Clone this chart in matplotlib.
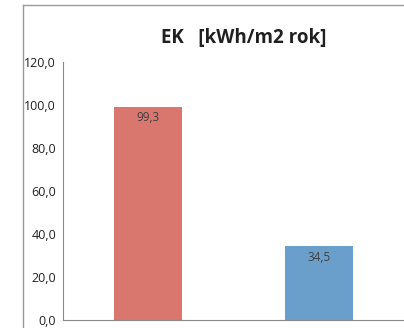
import matplotlib.pyplot as plt
from matplotlib.lines import Line2D

# dane
kategorie = ["stan istniejący", "po termomodernizacji"]
wartosci = [99.3, 34.5]
kolory = ["#d9776f", "#6a9fcb"]
tytul = "EK   [kWh/m2 rok]"
yticki = [0, 20, 40, 60, 80, 100, 120]

plt.rcParams['font.family'] = ['Open Sans', 'DejaVu Sans']

fig = plt.figure(figsize=(4.04, 3.28), dpi=100)
# ramka wykresu (lewa i górna krawędź)
fig.lines.append(Line2D([23 / 404, 23 / 404], [0, 1 - 5 / 328],
                        transform=fig.transFigure, color="#9a9a9a", lw=1.0))
fig.lines.append(Line2D([23 / 404, 1], [1 - 5 / 328, 1 - 5 / 328],
                        transform=fig.transFigure, color="#9a9a9a", lw=1.0))

ax = fig.add_axes([63 / 404, 8 / 328, 1 - 63 / 404, 258 / 328])
x = range(len(wartosci))
bary = ax.bar(x, wartosci, width=0.4, color=kolory)

for xi, v in zip(x, wartosci):
    ax.text(xi, v - 2.3, f"{v:.1f}".replace(".", ","), ha="center", va="top",
            fontsize=8.5, color="#404040")

ax.set_xlim(-0.5, 1.5)
ax.set_ylim(0, 120)
ax.set_yticks(yticki)
ax.set_yticklabels([f"{t:.1f}".replace(".", ",") for t in yticki],
                   fontsize=9, color="#202020")
ax.set_xticks([])
ax.tick_params(axis="y", length=0, pad=5)
for s in ["top", "right"]:
    ax.spines[s].set_visible(False)
ax.spines["left"].set_color("#888888")
ax.spines["bottom"].set_color("#888888")

fig.text(244 / 404, 1 - 38 / 328, tytul, ha="center", va="center",
         fontsize=13.5, fontweight="bold", color="#202020")

fig.savefig("out.png", dpi=100)
